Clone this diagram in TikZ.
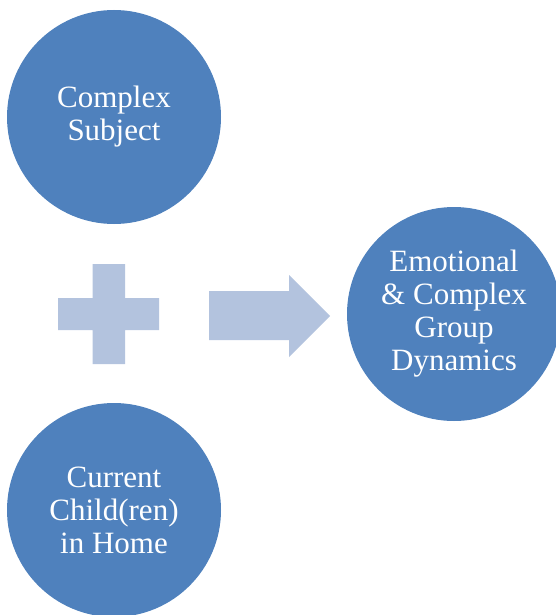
\documentclass[tikz,border=0pt]{standalone}
\usepackage{fontspec}
\setmainfont{Liberation Serif}
\definecolor{circblue}{HTML}{4F81BD}
\definecolor{lightblue}{HTML}{B3C3DE}
\begin{document}
\begin{tikzpicture}[x=1pt,y=-1pt,
  bubble/.style={circle,fill=circblue,draw=none,minimum size=214pt,inner sep=0pt,
    text=white,align=center,font=\fontsize{31}{33}\selectfont},
  shapefill/.style={fill=lightblue,draw=none}]
\useasboundingbox (0,0) rectangle (556,615);
\begin{scope}
\clip (0,0) rectangle (556,615);
\node[bubble] (subject) at (114,117) {Complex\\Subject};
\node[bubble] (children) at (114,510) {Current\\Child(ren)\\in Home};
\node[bubble] (dynamics) at (454,314) {Emotional\\\& Complex\\Group\\Dynamics};
\end{scope}
% plus sign
\path[shapefill] (92.5,264) -- (125,264) -- (125,298) -- (159,298) -- (159,330) -- (125,330)
  -- (125,364) -- (92.5,364) -- (92.5,330) -- (58,330) -- (58,298) -- (92.5,298) -- cycle;
% arrow
\path[shapefill] (209,291) -- (289,291) -- (289,275) -- (330,316) -- (289,357) -- (289,340)
  -- (209,340) -- cycle;
\end{tikzpicture}
\end{document}
